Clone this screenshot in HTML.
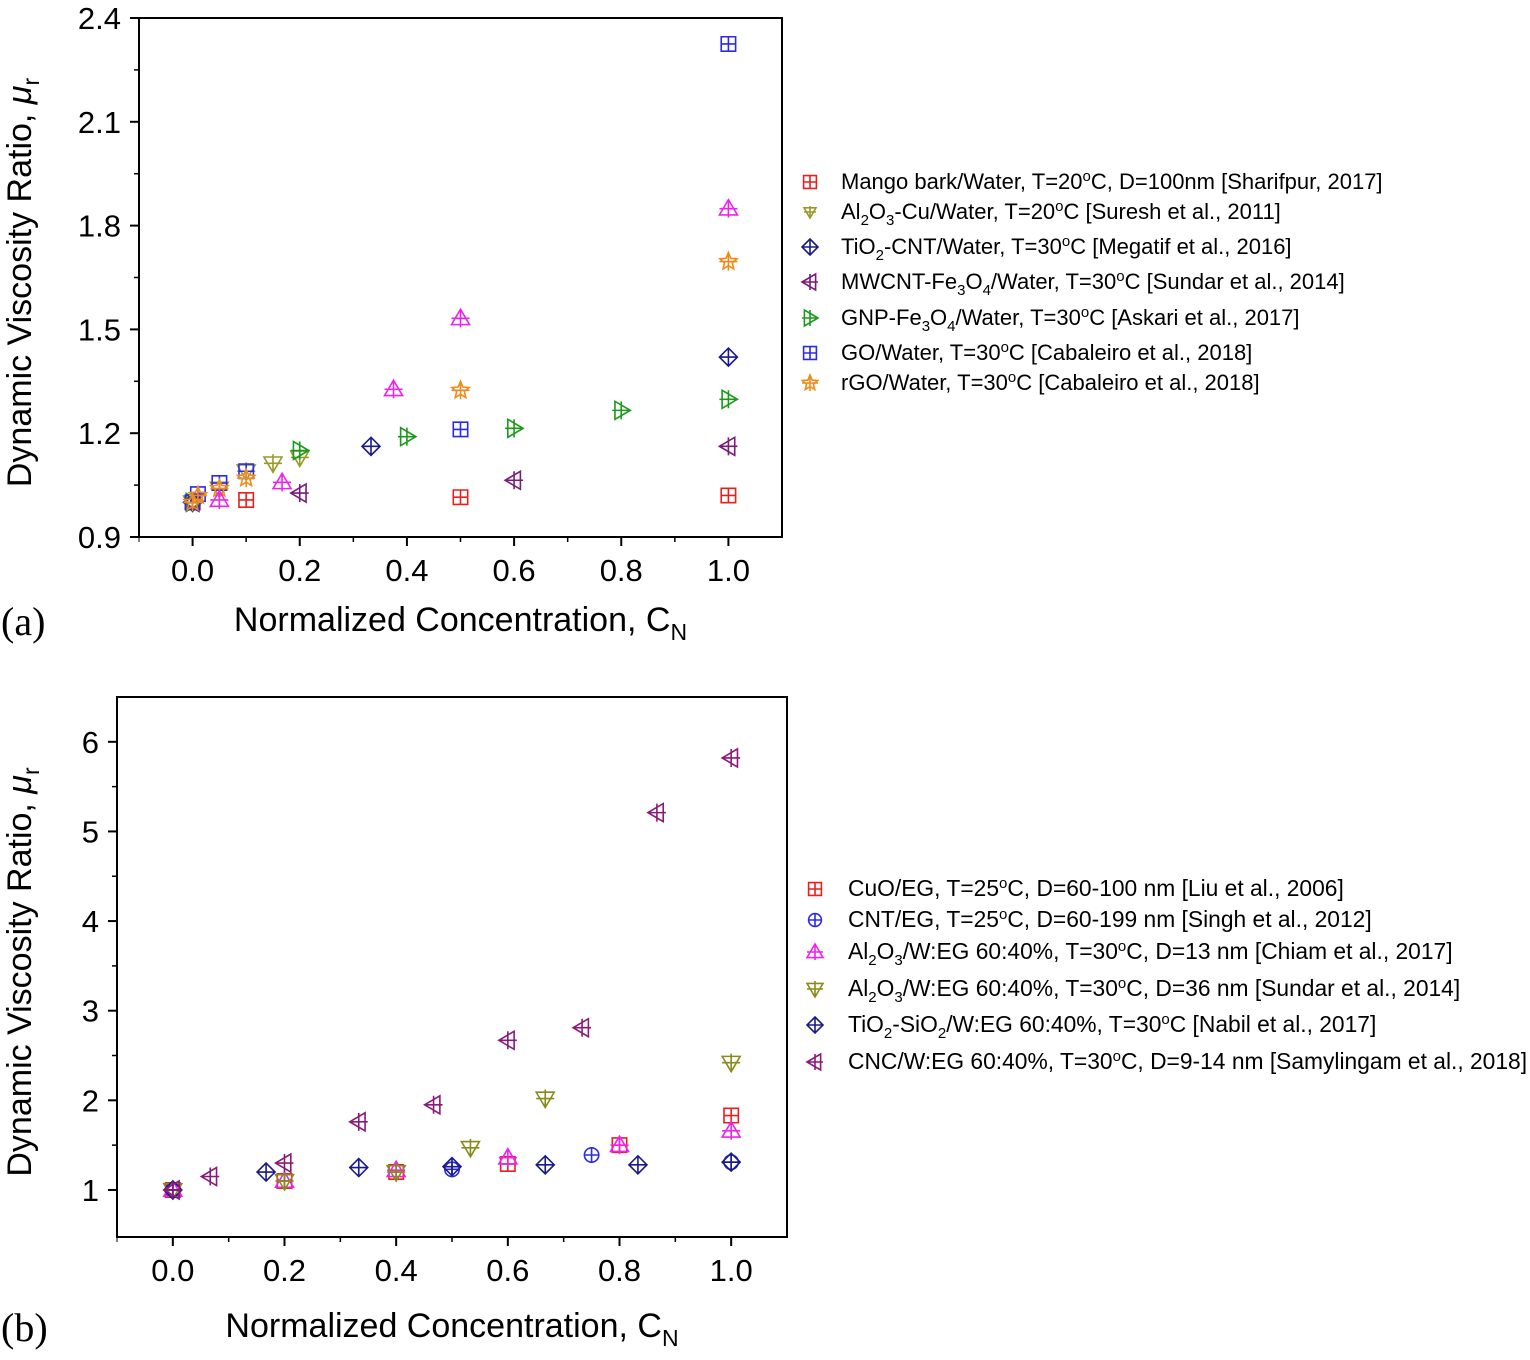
<!DOCTYPE html>
<html><head><meta charset="utf-8"><style>
body{margin:0;background:#fff;width:1530px;height:1355px;overflow:hidden}
svg text{font-family:"Liberation Sans",sans-serif}
svg text.serif{font-family:"Liberation Serif",serif}
</style></head><body>
<svg id="s" width="1530" height="1355"></svg>
<script>
// Panel (a) data
const aXTicks=[0,0.2,0.4,0.6,0.8,1.0];
const aYTicks=[0.9,1.2,1.5,1.8,2.1,2.4];
const aMangoX=[0,0.1,0.5,1.0], aMangoY=[1.0,1.007,1.015,1.02];
const aAlCuX=[0,0.05,0.1,0.15,0.2], aAlCuY=[1.0,1.04,1.09,1.113,1.13];
const aTiCntX=[0,0.333,1.0], aTiCntY=[1.0,1.162,1.42];
const aMwX=[0,0.2,0.6,1.0], aMwY=[1.0,1.027,1.064,1.162];
const aGnpX=[0,0.2,0.4,0.6,0.8,1.0], aGnpY=[1.0,1.15,1.19,1.214,1.266,1.298];
const aGoX=[0,0.01,0.05,0.1,0.5,1.0], aGoY=[1.0,1.024,1.056,1.09,1.211,2.325];
const aRgoX=[0,0.01,0.05,0.1,0.5,1.0], aRgoY=[1.0,1.02,1.04,1.07,1.324,1.696];
const aMagX=[0.05,0.167,0.375,0.5,1.0], aMagY=[1.007,1.058,1.327,1.532,1.849];
// Panel (b) data
const bXTicks=[0,0.2,0.4,0.6,0.8,1.0];
const bYTicks=[1,2,3,4,5,6];
const bCuoX=[0,0.2,0.4,0.6,0.8,1.0], bCuoY=[1,1.1,1.2,1.29,1.5,1.83];
const bCntX=[0,0.5,0.75,1.0], bCntY=[1,1.23,1.39,1.31];
const bChiamX=[0,0.2,0.4,0.6,0.8,1.0], bChiamY=[1,1.1,1.22,1.36,1.5,1.66];
const bSundarX=[0,0.2,0.4,0.533,0.667,1.0], bSundarY=[1,1.1,1.2,1.47,2.02,2.42];
const bTiSiX=[0,0.167,0.333,0.5,0.667,0.833,1.0], bTiSiY=[1,1.2,1.25,1.26,1.28,1.28,1.31];
const bCncX=[0,0.067,0.2,0.333,0.467,0.6,0.733,0.867,1.0], bCncY=[1,1.15,1.3,1.76,1.95,2.67,2.81,5.21,5.82];

const NS='http://www.w3.org/2000/svg';
const svg=document.getElementById('s');
function el(t,a,p){const e=document.createElementNS(NS,t);for(const k in a)e.setAttribute(k,a[k]);(p||svg).appendChild(e);return e;}
function marker(g,type,cx,cy,c,r){
  const sw=1.6;let d='';
  if(type==='sq'){d=`M${cx-r*0.8},${cy-r*0.8}h${1.6*r}v${1.6*r}h${-1.6*r}zM${cx-r*0.8},${cy}h${1.6*r}M${cx},${cy-r*0.8}v${1.6*r}`;}
  else if(type==='dia'){d=`M${cx},${cy-r}L${cx+r},${cy}L${cx},${cy+r}L${cx-r},${cy}zM${cx-r},${cy}h${2*r}M${cx},${cy-r}v${2*r}`;}
  else if(type==='up'){d=`M${cx},${cy-r}L${cx+r},${cy+r*0.7}L${cx-r},${cy+r*0.7}zM${cx-r},${cy}h${2*r}M${cx},${cy-r}v${2*r}`;}
  else if(type==='down'){d=`M${cx},${cy+r}L${cx+r},${cy-r*0.7}L${cx-r},${cy-r*0.7}zM${cx-r},${cy}h${2*r}M${cx},${cy-r}v${2*r}`;}
  else if(type==='left'){d=`M${cx-r},${cy}L${cx+r*0.7},${cy-r}L${cx+r*0.7},${cy+r}zM${cx-r},${cy}h${2*r}M${cx},${cy-r}v${2*r}`;}
  else if(type==='right'){d=`M${cx+r},${cy}L${cx-r*0.7},${cy-r}L${cx-r*0.7},${cy+r}zM${cx-r},${cy}h${2*r}M${cx},${cy-r}v${2*r}`;}
  else if(type==='circ'){el('circle',{cx,cy,r:r*0.8,fill:'none',stroke:c,'stroke-width':sw},g);d=`M${cx-r*0.8},${cy}h${1.6*r}M${cx},${cy-r*0.8}v${1.6*r}`;}
  else if(type==='star'){let p='';for(let i=0;i<10;i++){const a=-Math.PI/2+i*Math.PI/5,rr=i%2?r*0.45:r;p+=(i?'L':'M')+(cx+rr*Math.cos(a))+','+(cy+rr*Math.sin(a));}d=p+`zM${cx-r},${cy}h${2*r}M${cx},${cy-r}v${2*r}`;}
  const e=el('path',{d,fill:'none',stroke:c,'stroke-width':sw},g);
  
  
}
function panel(o){
  const X=v=>o.x0+(v-o.xmin)/(o.xmax-o.xmin)*(o.x1-o.x0);
  const Y=v=>o.y1-(v-o.ymin)/(o.ymax-o.ymin)*(o.y1-o.y0);
  const g=el('g',{});
  
  
  const f=el('rect',{x:o.x0,y:o.y0,width:o.x1-o.x0,height:o.y1-o.y0,fill:'none',stroke:'#000','stroke-width':2},g);
  
  
  for(let i=0;i<o.xt.length;i++){const v=o.xt[i],x=X(v);
    el('line',{x1:x,x2:x,y1:o.y1,y2:o.y1+9,stroke:'#000','stroke-width':2},g);
    const m=X(v+0.1);if(v+0.1<o.xmax)el('line',{x1:m,x2:m,y1:o.y1,y2:o.y1+5,stroke:'#000','stroke-width':1.5},g);
    const t=el('text',{x,y:o.y1+44,'font-size':31,'text-anchor':'middle'},g);t.textContent=v.toFixed(1);
    
    }
  el('line',{x1:X(-0.1),x2:X(-0.1),y1:o.y1,y2:o.y1+5,stroke:'#000'},g);
  for(let i=0;i<o.yt.length;i++){const v=o.yt[i],y=Y(v);
    el('line',{x1:o.x0-9,x2:o.x0,y1:y,y2:y,stroke:'#000','stroke-width':2},g);
    const hv=v+o.ystep/2;if(hv<o.ymax){const m=Y(hv);el('line',{x1:o.x0-5,x2:o.x0,y1:m,y2:m,stroke:'#000','stroke-width':1.5},g);}
    const t=el('text',{x:o.x0-18,y:y+11,'font-size':31,'text-anchor':'end'},g);t.textContent=o.yfmt(v);
    
    }
  for(const s of o.series){for(let i=0;i<s.x.length;i++)marker(g,s.t,X(s.x[i]),Y(s.y[i]),s.c,9);}
  o.legend.forEach((l,i)=>{const y=o.ly[i];marker(g,l.t,o.lx,y,l.c,l.r||8);
    const t=el('text',{x:o.lx+o.lgap,y:y+7,'font-size':o.lfs},g);t.innerHTML=l.h;
    
    });
  const xt=el('text',{x:(o.x0+o.x1)/2,y:o.y1+o.xty,'font-size':34,'text-anchor':'middle'},g);xt.innerHTML='Normalized Concentration, C<tspan font-size="23" baseline-shift="-9">N</tspan>';
  
  
  const yt=el('text',{x:0,y:0,'font-size':34,'text-anchor':'middle',transform:`translate(31,${(o.y0+o.y1)/2+5}) rotate(-90)`},g);yt.innerHTML='Dynamic Viscosity Ratio, <tspan font-style="italic">μ</tspan><tspan font-size="23" baseline-shift="-8">r</tspan>';
  
  
  const pl=el('text',{x:1,y:o.y1+o.ply,'font-size':40,'class':'serif'},g);pl.textContent=o.label;
  
  
}
const sub=(s)=>`<tspan font-size="15" baseline-shift="-6">${s}</tspan>`;
const sup=(s)=>`<tspan font-size="15" baseline-shift="8">${s}</tspan>`;
panel({name:'chart-a',label:'(a)',x0:139,x1:782,y0:18,y1:537,xmin:-0.1,xmax:1.1,ymin:0.9,ymax:2.4,ystep:0.3,xt:aXTicks,yt:aYTicks,yfmt:v=>v.toFixed(1),
 xty:94,ply:98,lgap:31,lfs:22,
 series:[{t:'sq',c:'#e8201c',x:aMangoX,y:aMangoY},{t:'down',c:'#9a9a2a',x:aAlCuX,y:aAlCuY},{t:'dia',c:'#1a1a8a',x:aTiCntX,y:aTiCntY},
 {t:'left',c:'#7a1a7a',x:aMwX,y:aMwY},{t:'right',c:'#1a9a1a',x:aGnpX,y:aGnpY},{t:'sq',c:'#2a2aee',x:aGoX,y:aGoY},{t:'star',c:'#f08a1a',x:aRgoX,y:aRgoY},{t:'up',c:'#ee22ee',x:aMagX,y:aMagY}],
 lx:810,ly:[182,212,247,282,318,353,383],
 legend:[{t:'sq',c:'#e8201c',h:`Mango bark/Water, T=20${sup('o')}C, D=100nm [Sharifpur, 2017]`},
 {t:'down',c:'#9a9a2a',r:6,h:`Al${sub('2')}O${sub('3')}-Cu/Water, T=20${sup('o')}C [Suresh et al., 2011]`},
 {t:'dia',c:'#1a1a8a',h:`TiO${sub('2')}-CNT/Water, T=30${sup('o')}C [Megatif et al., 2016]`},
 {t:'left',c:'#7a1a7a',h:`MWCNT-Fe${sub('3')}O${sub('4')}/Water, T=30${sup('o')}C [Sundar et al., 2014]`},
 {t:'right',c:'#1a9a1a',h:`GNP-Fe${sub('3')}O${sub('4')}/Water, T=30${sup('o')}C [Askari et al., 2017]`},
 {t:'sq',c:'#2a2aee',h:`GO/Water, T=30${sup('o')}C [Cabaleiro et al., 2018]`},
 {t:'star',c:'#f08a1a',h:`rGO/Water, T=30${sup('o')}C [Cabaleiro et al., 2018]`}]});
panel({name:'chart-b',label:'(b)',x0:117,x1:787,y0:697,y1:1237,xmin:-0.1,xmax:1.1,ymin:0.475,ymax:6.5,ystep:1,xt:bXTicks,yt:bYTicks,yfmt:v=>String(v),
 xty:100,ply:104,lgap:33,lfs:22.8,
 series:[{t:'sq',c:'#e8201c',x:bCuoX,y:bCuoY},{t:'circ',c:'#2a2aee',x:bCntX,y:bCntY},{t:'up',c:'#ee22ee',x:bChiamX,y:bChiamY},
 {t:'down',c:'#8a8a1a',x:bSundarX,y:bSundarY},{t:'dia',c:'#1a1a8a',x:bTiSiX,y:bTiSiY},{t:'left',c:'#8a1a7a',x:bCncX,y:bCncY}],
 lx:815,ly:[889,920,952,989,1025,1062],
 legend:[{t:'sq',c:'#e8201c',h:`CuO/EG, T=25${sup('o')}C, D=60-100 nm [Liu et al., 2006]`},
 {t:'circ',c:'#2a2aee',h:`CNT/EG, T=25${sup('o')}C, D=60-199 nm [Singh et al., 2012]`},
 {t:'up',c:'#ee22ee',h:`Al${sub('2')}O${sub('3')}/W:EG 60:40%, T=30${sup('o')}C, D=13 nm [Chiam et al., 2017]`},
 {t:'down',c:'#8a8a1a',h:`Al${sub('2')}O${sub('3')}/W:EG 60:40%, T=30${sup('o')}C, D=36 nm [Sundar et al., 2014]`},
 {t:'dia',c:'#1a1a8a',h:`TiO${sub('2')}-SiO${sub('2')}/W:EG 60:40%, T=30${sup('o')}C [Nabil et al., 2017]`},
 {t:'left',c:'#8a1a7a',h:`CNC/W:EG 60:40%, T=30${sup('o')}C, D=9-14 nm [Samylingam et al., 2018]`}]});
</script>
</body></html>
